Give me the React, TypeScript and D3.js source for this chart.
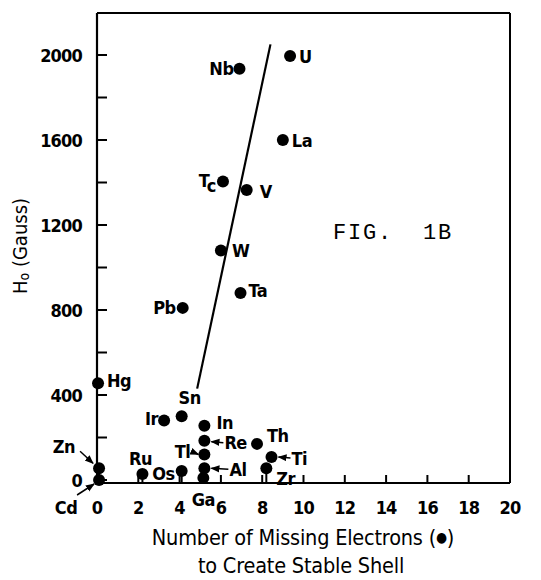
import React from "react";
import * as d3 from "d3";

const names = ["U","Nb","La","Tc","V","W","Ta","Pb","Hg","Sn","Ir","In","Re","Tl","Al","Ga","Th","Ti","Zr","Os","Ru","Zn","Cd"];
const xs = [9.35,6.9,9.0,6.1,7.25,6.0,6.95,4.15,0.05,4.1,3.25,5.2,5.2,5.2,5.2,5.15,7.75,8.45,8.2,4.1,2.2,0.1,0.1];
const ys = [1995,1935,1600,1405,1365,1080,880,810,455,300,280,255,185,120,55,10,170,108,55,42,28,55,0];
const fitX = [4.85, 8.4];
const fitY = [430, 2050];
const xTicks = [0,2,4,6,8,10,12,14,16,18,20];
const yTicks = [0,200,400,600,800,1000,1200,1400,1600,1800,2000];
const yLabels = [0,400,800,1200,1600,2000];
const stemNames = ["Ru","Os","Zr","Ga","Al","Zn","Cd"];

type L = { dx: number; dy: number; a: "start" | "end" | "middle"; arrow?: [number, number, number, number] };
const labelLayout: Record<string, L> = {
  U: { dx: 9, dy: 0, a: "start" },
  Nb: { dx: -6, dy: 0, a: "end" },
  La: { dx: 9, dy: 0, a: "start" },
  Tc: { dx: -7, dy: -1, a: "end" },
  V: { dx: 13, dy: 2, a: "start" },
  W: { dx: 11, dy: 0, a: "start" },
  Ta: { dx: 8, dy: -3, a: "start" },
  Pb: { dx: -7, dy: 0, a: "end" },
  Hg: { dx: 9, dy: -3, a: "start" },
  Sn: { dx: 8, dy: -19, a: "middle" },
  Ir: { dx: -6, dy: -2, a: "end" },
  In: { dx: 12, dy: -3, a: "start" },
  Re: { dx: 20, dy: 2, a: "start", arrow: [19, 2, 7, 1] },
  Tl: { dx: -14, dy: -3, a: "end", arrow: [-13, -3, -6, 0] },
  Al: { dx: 25, dy: 1, a: "start", arrow: [24, 1, 7, 0] },
  Ga: { dx: 0, dy: 22, a: "middle" },
  Th: { dx: 10, dy: -8, a: "start" },
  Ti: { dx: 20, dy: 1, a: "start", arrow: [19, 1, 7, 0] },
  Zr: { dx: 10, dy: 10, a: "start" },
  Os: { dx: -7, dy: 2, a: "end" },
  Ru: { dx: -2, dy: -16, a: "middle" },
  Zn: { dx: -24, dy: -22, a: "end", arrow: [-19, -17, -6, -5] },
  Cd: { dx: -33, dy: 27, a: "middle", arrow: [-22, 15, -5, 4] },
};

const FONT = "'DejaVu Sans Condensed', 'Liberation Sans Narrow', 'DejaVu Sans', sans-serif";

export default function App() {
  const x = d3.scaleLinear().domain([0, 20]).range([97, 510]);
  const y = d3.scaleLinear().domain([0, 2000]).range([480, 55]);
  const left = x(0), right = x(20), bottom = y(0) + 3, top = 13;
  const line = d3.line<number>().x((_, i) => x(fitX[i])).y((_, i) => y(fitY[i]));

  return (
    <svg width={541} height={580} style={{ position: "absolute", left: 0, top: 0, background: "#fff" }} fontFamily={FONT}>
      <defs>
        <marker id="ah" viewBox="0 0 10 10" refX="9" refY="5" markerWidth="6" markerHeight="6" orient="auto">
          <path d="M0,1 L10,5 L0,9 z" fill="#000" />
        </marker>
      </defs>
      {/* frame */}
      <line x1={left} y1={top} x2={right} y2={top} stroke="#000" strokeWidth={2} />
      <line x1={right} y1={top} x2={right} y2={bottom} stroke="#000" strokeWidth={2} />
      <line x1={left} y1={top} x2={left} y2={bottom} stroke="#000" strokeWidth={2.2} />
      <line x1={left} y1={bottom} x2={right} y2={bottom} stroke="#000" strokeWidth={2.2} />
      {/* y ticks */}
      {yTicks.map((t) => (
        <line key={"yt" + t} x1={left} x2={left + 10} y1={y(t)} y2={y(t)} stroke="#000" strokeWidth={2} />
      ))}
      {yLabels.map((t) => (
        <text key={"yl" + t} x={left - 15} y={y(t)} textAnchor="end" dominantBaseline="central" fontSize={18} fontWeight="bold" letterSpacing={-0.8}>
          {t}
        </text>
      ))}
      {/* x ticks */}
      {xTicks.map((t) => (
        <line key={"xt" + t} x1={x(t)} x2={x(t)} y1={bottom} y2={bottom - 8} stroke="#000" strokeWidth={2} />
      ))}
      {xTicks.map((t) => (
        <text key={"xl" + t} x={x(t)} y={507} textAnchor="middle" dominantBaseline="central" fontSize={18} fontWeight="bold" letterSpacing={-0.8}>
          {t}
        </text>
      ))}
      {/* fit line */}
      <path d={line(fitX) || ""} stroke="#000" strokeWidth={2.2} fill="none" />
      {/* stems */}
      {names.map((n, i) =>
        stemNames.includes(n) ? (
          <line key={"s" + n} x1={x(xs[i])} x2={x(xs[i])} y1={y(ys[i])} y2={bottom} stroke="#000" strokeWidth={2} />
        ) : null
      )}
      {/* points */}
      {names.map((n, i) => (
        <circle key={"p" + n} cx={x(xs[i])} cy={y(ys[i])} r={6} fill="#000" />
      ))}
      {/* labels */}
      {names.map((n, i) => {
        const L = labelLayout[n];
        const px = x(xs[i]), py = y(ys[i]);
        return (
          <g key={"l" + n}>
            {L.arrow && (
              <line x1={px + L.arrow[0]} y1={py + L.arrow[1]} x2={px + L.arrow[2]} y2={py + L.arrow[3]} stroke="#000" strokeWidth={1.5} markerEnd="url(#ah)" />
            )}
            <text x={px + L.dx} y={py + L.dy} textAnchor={L.a} dominantBaseline="central" fontSize={18} fontWeight="bold" letterSpacing={-0.5}>
              {n === "Tc" ? (
                <>
                  T<tspan dy={5}>c</tspan>
                </>
              ) : (
                n
              )}
            </text>
          </g>
        );
      })}
      {/* FIG label */}
      <text x={333} y={233} dominantBaseline="central" fontSize={22} letterSpacing={1.8} fontFamily="'Liberation Mono', 'DejaVu Sans Mono', monospace" xmlSpace="preserve">
        {"FIG.  1B"}
      </text>
      {/* axis titles */}
      <text transform="translate(20,246) rotate(-90)" textAnchor="middle" dominantBaseline="central" fontSize={20}>
        H<tspan fontSize={14} dy={4}>o</tspan>
        <tspan dy={-4}> (Gauss)</tspan>
      </text>
      <text x={303} y={537} textAnchor="middle" dominantBaseline="central" fontSize={21.5} letterSpacing={-0.2}>
        Number of Missing Electrons (<tspan fontSize={14}>●</tspan>)
      </text>
      <text x={301} y={565} textAnchor="middle" dominantBaseline="central" fontSize={21.5} letterSpacing={-0.2}>
        to Create Stable Shell
      </text>
    </svg>
  );
}
